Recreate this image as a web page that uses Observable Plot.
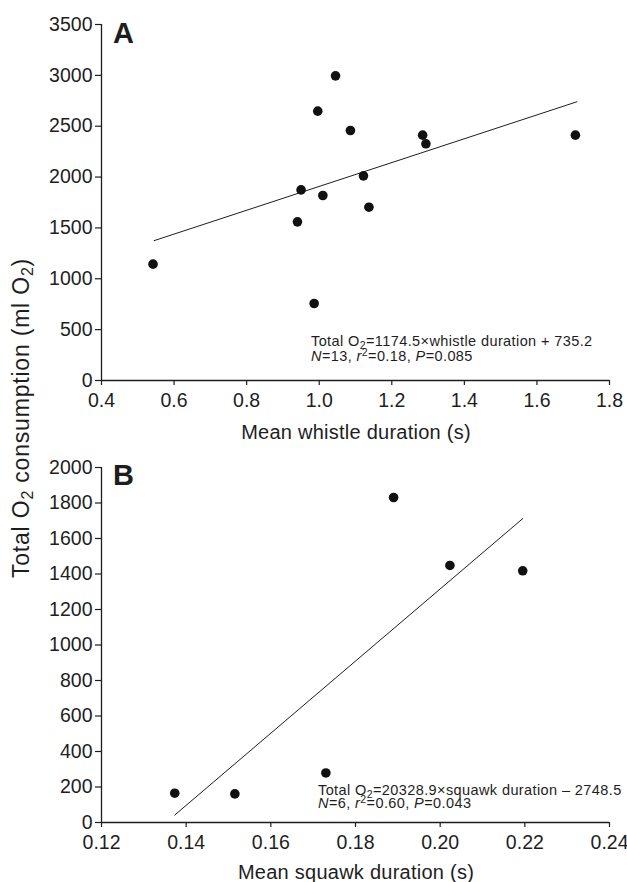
<!DOCTYPE html>
<html>
<head>
<meta charset="utf-8">
<script src="https://cdn.jsdelivr.net/npm/d3@7"></script>
<script src="https://cdn.jsdelivr.net/npm/@observablehq/plot@0.6"></script>
<style>
  html, body { margin: 0; padding: 0; background: #fff; }
  #wrap { position: relative; width: 627px; height: 882px; background: #fff; font-family: "Liberation Sans", Arial, Helvetica, sans-serif; overflow: hidden; }
  #wrap > .panel { position: absolute; left: 0; }
  #ytitle { position: absolute; left: 0; top: 0; pointer-events: none; }
</style>
</head>
<body>
<div id="wrap"></div>
<script>
// ---- Panel A data: whistles ----
const whistleDuration = [0.542, 0.94, 0.95, 0.996, 1.045, 0.986, 1.01, 1.086, 1.122, 1.137, 1.285, 1.294, 1.706];
const whistleO2 = [1144, 1560, 1874, 2648, 2995, 757, 1819, 2458, 2012, 1704, 2412, 2327, 2412];
const whistleFitX = [0.545, 1.71];
const whistleFitY = [1375, 2740];
const whistleXTicks = [0.4, 0.6, 0.8, 1.0, 1.2, 1.4, 1.6, 1.8];
const whistleYTicks = [0, 500, 1000, 1500, 2000, 2500, 3000, 3500];

// ---- Panel B data: squawks ----
const squawkDuration = [0.1373, 0.1515, 0.173, 0.189, 0.2023, 0.2195];
const squawkO2 = [165, 161, 279, 1831, 1448, 1418];
const squawkFitX = [0.1373, 0.2195];
const squawkFitY = [42, 1712];
const squawkXTicks = [0.12, 0.14, 0.16, 0.18, 0.20, 0.22, 0.24];
const squawkYTicks = [0, 200, 400, 600, 800, 1000, 1200, 1400, 1600, 1800, 2000];

const FONT = "'Liberation Sans', Arial, Helvetica, sans-serif";
const INK = "#1e1e1e";
const TICKFONT = 19.5;

function makePanel(o) {
  const pts = o.xs.map((x, i) => ({x, y: o.ys[i]}));
  const fit = o.fx.map((x, i) => ({x, y: o.fy[i]}));
  const plot = Plot.plot({
    width: 627,
    height: o.height,
    marginLeft: 101,
    marginRight: o.marginRight,
    marginTop: o.marginTop,
    marginBottom: o.marginBottom,
    style: {fontFamily: FONT, fontSize: TICKFONT + "px", color: INK, background: "white", overflow: "visible"},
    x: {domain: o.xDomain},
    y: {domain: o.yDomain},
    marks: [
      Plot.axisX({ticks: o.xTicks, tickFormat: o.xFmt, tickSize: 5, tickPadding: 8, label: null, fontSize: TICKFONT, strokeWidth: 1.2}),
      Plot.axisY({ticks: o.yTicks, tickFormat: d3.format("d"), tickSize: 6, tickPadding: 3, label: null, fontSize: TICKFONT, strokeWidth: 1.2}),
      Plot.ruleY([o.yDomain[0]], {stroke: INK, strokeWidth: 1.3}),
      Plot.ruleX([o.xDomain[0]], {stroke: INK, strokeWidth: 1.3}),
      Plot.line(fit, {x: "x", y: "y", stroke: INK, strokeWidth: 1}),
      Plot.dot(pts, {x: "x", y: "y", r: 4.8, fill: "#111", stroke: "none"})
    ]
  });
  const svg = d3.select(plot);
  // panel letter
  svg.append("text")
    .attr("x", 113).attr("y", o.letterY)
    .attr("text-anchor", "start")
    .attr("font-family", FONT).attr("font-weight", "bold").attr("font-size", 29)
    .attr("fill", INK).text(o.letter);
  // x axis title
  svg.append("text")
    .attr("x", 356).attr("y", o.xTitleY).attr("dy", "0.35em")
    .attr("text-anchor", "middle")
    .attr("font-family", FONT).attr("font-size", 20).attr("letter-spacing", 0.25).attr("fill", INK)
    .text(o.xTitle);
  // annotation
  richText(svg, o.annX, o.annY1, o.line1);
  richText(svg, o.annX, o.annY2, o.line2);
  plot.classList.add("panel");
  plot.style.top = o.top + "px";
  return plot;
}

function richText(svg, x, y, parts) {
  const t = svg.append("text").attr("x", x).attr("y", y)
    .attr("text-anchor", "start")
    .attr("font-family", FONT).attr("font-size", 14.5).attr("letter-spacing", 0.4).attr("fill", INK);
  let shift = 0;
  parts.forEach(p => {
    const s = t.append("tspan").text(p.t);
    let target = 0;
    if (p.sub) { target = 2.5; s.attr("font-size", 10.5); }
    if (p.sup) { target = -5; s.attr("font-size", 10.5); }
    if (target !== shift) { s.attr("dy", target - shift); shift = target; }
    if (p.it) s.attr("font-style", "italic");
  });
}

const wrap = document.getElementById("wrap");

wrap.appendChild(makePanel({
  xs: whistleDuration, ys: whistleO2, fx: whistleFitX, fy: whistleFitY,
  xDomain: [0.4, 1.8], yDomain: [0, 3500],
  xTicks: whistleXTicks, yTicks: whistleYTicks, xFmt: d => d.toFixed(1),
  height: 445, marginTop: 24, marginBottom: 65, marginRight: 18, top: 0,
  letter: "A", letterY: 43, xTitle: "Mean whistle duration (s)", xTitleY: 432,
  annX: 311, annY1: 346, annY2: 360.5,
  line1: [{t: "Total O"}, {t: "2", sub: true}, {t: "=1174.5\u00D7whistle duration + 735.2"}],
  line2: [{t: "N", it: true}, {t: "=13, "}, {t: "r", it: true}, {t: "2", sup: true}, {t: "=0.18, "}, {t: "P", it: true}, {t: "=0.085"}]
}));

wrap.appendChild(makePanel({
  xs: squawkDuration, ys: squawkO2, fx: squawkFitX, fy: squawkFitY,
  xDomain: [0.12, 0.24], yDomain: [0, 2000],
  xTicks: squawkXTicks, yTicks: squawkYTicks, xFmt: d => d.toFixed(2),
  height: 437, marginTop: 22, marginBottom: 60, marginRight: 18, top: 445,
  letter: "B", letterY: 40, xTitle: "Mean squawk duration (s)", xTitleY: 427,
  annX: 318, annY1: 350, annY2: 363,
  line1: [{t: "Total O"}, {t: "2", sub: true}, {t: "=20328.9\u00D7squawk duration \u2013 2748.5"}],
  line2: [{t: "N", it: true}, {t: "=6, "}, {t: "r", it: true}, {t: "2", sup: true}, {t: "=0.60, "}, {t: "P", it: true}, {t: "=0.043"}]
}));

// shared y-axis title
const ysvg = d3.create("svg").attr("id", "ytitle").attr("width", 44).attr("height", 882);
const yt = ysvg.append("text")
  .attr("transform", "translate(21,418) rotate(-90)")
  .attr("text-anchor", "middle").attr("dy", "0.35em")
  .attr("font-family", FONT).attr("font-size", 23).attr("letter-spacing", 0.8).attr("fill", INK);
yt.append("tspan").text("Total O");
yt.append("tspan").attr("font-size", 16).attr("dy", 4).text("2");
yt.append("tspan").attr("dy", -4).text(" consumption (ml O");
yt.append("tspan").attr("font-size", 16).attr("dy", 4).text("2");
yt.append("tspan").attr("dy", -4).text(")");
wrap.appendChild(ysvg.node());
</script>
</body>
</html>
